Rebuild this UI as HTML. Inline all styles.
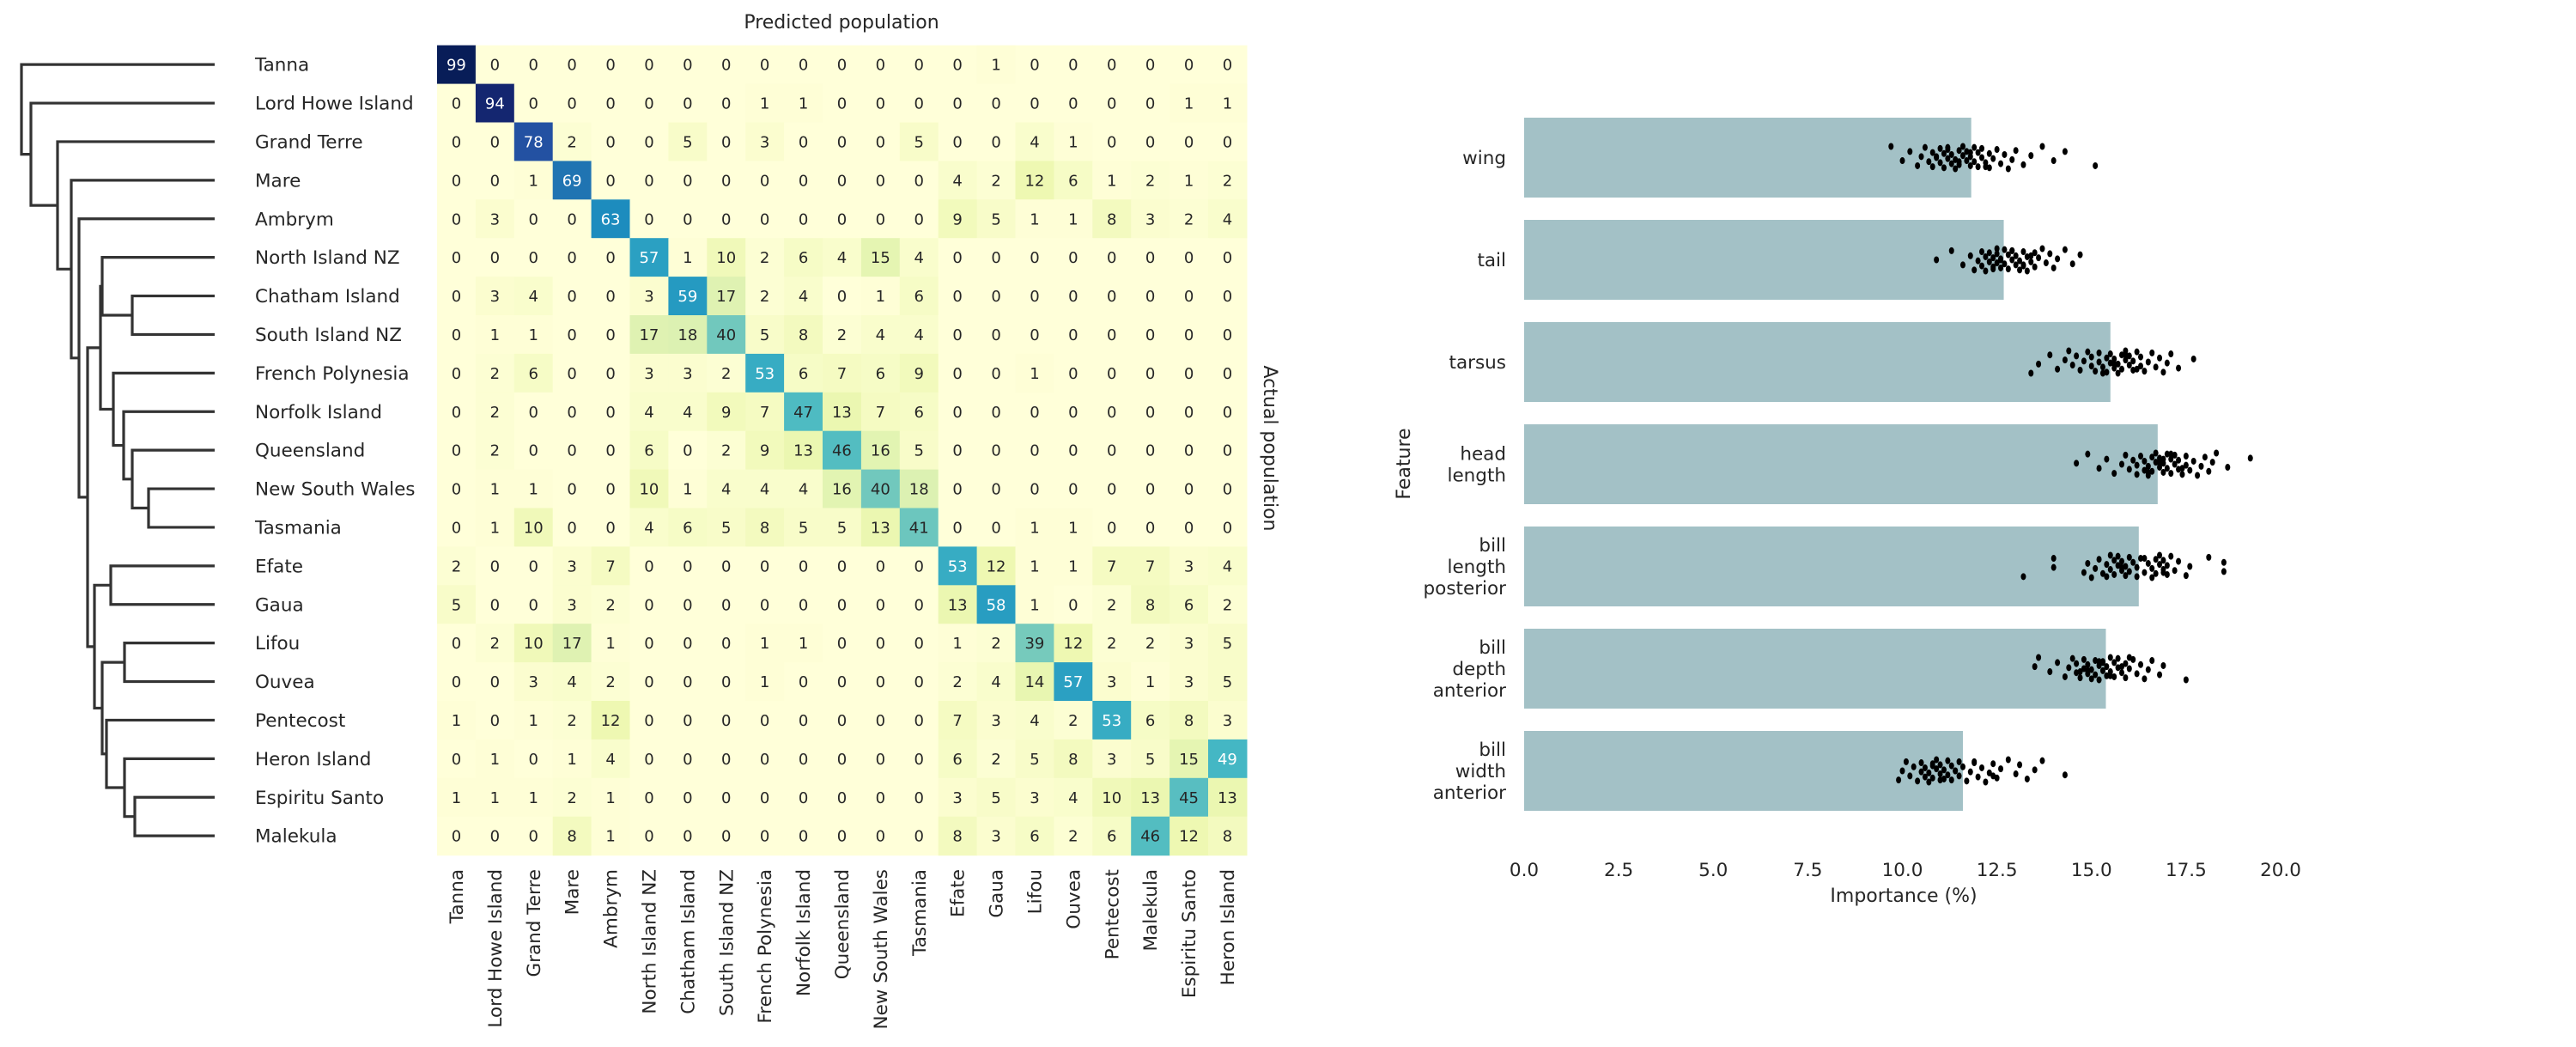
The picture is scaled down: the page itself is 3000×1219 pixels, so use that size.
<!DOCTYPE html>
<html><head><meta charset="utf-8"><style>
html,body{margin:0;padding:0;background:#fff;}
svg{display:block;}
text{font-family:"DejaVu Sans","Liberation Sans",sans-serif;fill:#262626;}
</style></head><body>
<svg id="chart" width="3000" height="1219" viewBox="0 0 3000 1219" xmlns="http://www.w3.org/2000/svg">
<g id="dendro"></g>
<g id="rowlabels"></g>
<g id="heat"></g>
<g id="collabels"></g>
<text x="980" y="33" font-size="22" text-anchor="middle">Predicted population</text>
<text x="0" y="0" font-size="22" text-anchor="middle" transform="translate(1472,522) rotate(90)">Actual population</text>
<g id="bars"></g>
<text x="0" y="0" font-size="22" text-anchor="middle" transform="translate(1642,540) rotate(-90)">Feature</text>
<text x="2217" y="1050" font-size="22" text-anchor="middle">Importance (%)</text>
</svg>
<script>
const populations = ["Tanna","Lord Howe Island","Grand Terre","Mare","Ambrym","North Island NZ","Chatham Island","South Island NZ","French Polynesia","Norfolk Island","Queensland","New South Wales","Tasmania","Efate","Gaua","Lifou","Ouvea","Pentecost","Heron Island","Espiritu Santo","Malekula"];
const predictedCols = ["Tanna","Lord Howe Island","Grand Terre","Mare","Ambrym","North Island NZ","Chatham Island","South Island NZ","French Polynesia","Norfolk Island","Queensland","New South Wales","Tasmania","Efate","Gaua","Lifou","Ouvea","Pentecost","Malekula","Espiritu Santo","Heron Island"];
const confusion = [
[99,0,0,0,0,0,0,0,0,0,0,0,0,0,1,0,0,0,0,0,0],
[0,94,0,0,0,0,0,0,1,1,0,0,0,0,0,0,0,0,0,1,1],
[0,0,78,2,0,0,5,0,3,0,0,0,5,0,0,4,1,0,0,0,0],
[0,0,1,69,0,0,0,0,0,0,0,0,0,4,2,12,6,1,2,1,2],
[0,3,0,0,63,0,0,0,0,0,0,0,0,9,5,1,1,8,3,2,4],
[0,0,0,0,0,57,1,10,2,6,4,15,4,0,0,0,0,0,0,0,0],
[0,3,4,0,0,3,59,17,2,4,0,1,6,0,0,0,0,0,0,0,0],
[0,1,1,0,0,17,18,40,5,8,2,4,4,0,0,0,0,0,0,0,0],
[0,2,6,0,0,3,3,2,53,6,7,6,9,0,0,1,0,0,0,0,0],
[0,2,0,0,0,4,4,9,7,47,13,7,6,0,0,0,0,0,0,0,0],
[0,2,0,0,0,6,0,2,9,13,46,16,5,0,0,0,0,0,0,0,0],
[0,1,1,0,0,10,1,4,4,4,16,40,18,0,0,0,0,0,0,0,0],
[0,1,10,0,0,4,6,5,8,5,5,13,41,0,0,1,1,0,0,0,0],
[2,0,0,3,7,0,0,0,0,0,0,0,0,53,12,1,1,7,7,3,4],
[5,0,0,3,2,0,0,0,0,0,0,0,0,13,58,1,0,2,8,6,2],
[0,2,10,17,1,0,0,0,1,1,0,0,0,1,2,39,12,2,2,3,5],
[0,0,3,4,2,0,0,0,1,0,0,0,0,2,4,14,57,3,1,3,5],
[1,0,1,2,12,0,0,0,0,0,0,0,0,7,3,4,2,53,6,8,3],
[0,1,0,1,4,0,0,0,0,0,0,0,0,6,2,5,8,3,5,15,49],
[1,1,1,2,1,0,0,0,0,0,0,0,0,3,5,3,4,10,13,45,13],
[0,0,0,8,1,0,0,0,0,0,0,0,0,8,3,6,2,6,46,12,8]];
// dendrogram merges: [childA, childB, height-x]; ids >= 100 refer to merge index-100
const merges = [[6,7,154],[5,100,119],[11,12,173],[10,102,154],[9,103,144],[8,104,132],[101,105,117],[13,14,129],[15,16,145],[19,20,157],[18,109,145],[17,110,124],[108,111,119],[107,112,110],[106,113,102],[4,114,92],[3,115,83],[2,116,67],[1,117,36],[0,118,25]];
const features = ["wing","tail","tarsus","head\nlength","bill\nlength\nposterior","bill\ndepth\nanterior","bill\nwidth\nanterior"];
const importance = [11.82,12.68,15.5,16.75,16.25,15.38,11.6];
const xTicks = [0,2.5,5,7.5,10,12.5,15,17.5,20];
const ptsWing = [9.7,10.0,10.2,10.4,10.5,10.6,10.7,10.8,10.8,10.9,11.0,11.0,11.1,11.1,11.2,11.2,11.3,11.3,11.4,11.4,11.5,11.5,11.6,11.6,11.7,11.7,11.8,11.8,11.9,11.9,12.0,12.0,12.1,12.1,12.2,12.3,12.3,12.4,12.5,12.6,12.7,12.8,12.9,13.0,13.2,13.4,13.7,14.0,14.3,15.1,10.9,11.2,11.5,11.8,12.2];
const ptsTail = [10.9,11.3,11.6,11.8,11.9,12.0,12.1,12.1,12.2,12.2,12.3,12.3,12.4,12.4,12.5,12.5,12.5,12.6,12.6,12.7,12.7,12.8,12.8,12.9,12.9,13.0,13.0,13.1,13.1,13.2,13.2,13.3,13.3,13.4,13.5,13.5,13.6,13.7,13.8,13.9,14.0,14.1,14.3,14.5,14.7,12.4,12.6,12.9,13.2,13.4];
const ptsTarsus = [13.4,13.6,13.9,14.1,14.3,14.4,14.5,14.6,14.7,14.8,14.9,15.0,15.0,15.1,15.2,15.2,15.3,15.4,15.4,15.5,15.5,15.6,15.6,15.7,15.7,15.8,15.8,15.9,15.9,16.0,16.0,16.1,16.1,16.2,16.3,16.3,16.4,16.5,16.6,16.7,16.8,16.9,17.0,17.1,17.3,17.7,15.3,15.6,15.9,16.2];
const ptsHead = [14.6,14.9,15.2,15.4,15.6,15.8,15.9,16.0,16.1,16.2,16.2,16.3,16.4,16.4,16.5,16.5,16.6,16.6,16.7,16.7,16.8,16.8,16.9,16.9,17.0,17.0,17.1,17.1,17.2,17.2,17.3,17.3,17.4,17.5,17.5,17.6,17.7,17.8,17.9,18.0,18.1,18.2,18.3,18.6,19.2,16.5,16.8,17.1,17.4,16.9];
const ptsBillLength = [13.2,14.0,14.0,14.8,14.9,15.0,15.1,15.2,15.3,15.4,15.5,15.5,15.6,15.6,15.7,15.7,15.8,15.8,15.9,15.9,16.0,16.0,16.1,16.2,16.2,16.3,16.4,16.5,16.6,16.6,16.7,16.7,16.8,16.8,16.9,16.9,17.0,17.0,17.1,17.2,17.3,17.5,17.6,18.1,18.5,18.5,15.4,15.8,16.4,16.9];
const ptsBillDepth = [13.5,13.6,13.9,14.1,14.3,14.4,14.5,14.6,14.6,14.7,14.8,14.8,14.9,14.9,15.0,15.0,15.1,15.1,15.2,15.2,15.3,15.3,15.4,15.4,15.5,15.5,15.6,15.6,15.7,15.7,15.8,15.9,15.9,16.0,16.1,16.2,16.3,16.4,16.5,16.6,16.8,16.9,17.5,14.9,15.2,15.5,15.8,16.0,14.7,15.3];
const ptsBillWidth = [9.9,10.0,10.1,10.2,10.3,10.4,10.5,10.5,10.6,10.6,10.7,10.7,10.8,10.8,10.9,10.9,11.0,11.0,11.1,11.1,11.2,11.2,11.3,11.3,11.4,11.5,11.5,11.6,11.7,11.8,11.9,12.0,12.1,12.2,12.3,12.4,12.5,12.6,12.8,13.0,13.1,13.3,13.5,13.7,14.3,10.8,11.0,11.4,11.9,12.4];
const points = [ptsWing,ptsTail,ptsTarsus,ptsHead,ptsBillLength,ptsBillDepth,ptsBillWidth];

const NS="http://www.w3.org/2000/svg";
function mk(tag,attrs,parent){const e=document.createElementNS(NS,tag);for(const k in attrs)e.setAttribute(k,attrs[k]);parent.appendChild(e);return e;}

// heatmap axes
const H0X=509, H0Y=52.7, CELL=44.9, VMAX=99;
const cx=j=>H0X+CELL*j, cy=i=>H0Y+CELL*i;
const stops=[[255,255,217],[237,248,177],[199,233,180],[127,205,187],[65,182,196],[29,145,192],[34,94,168],[37,52,148],[8,29,88]];
function cmap(v){let t=Math.max(0,Math.min(1,v/VMAX))*8;let k=Math.min(7,Math.floor(t));let f=t-k;const a=stops[k],b=stops[k+1];return [0,1,2].map(c=>Math.round(a[c]+(b[c]-a[c])*f));}
function lum(c){const l=c.map(x=>{x/=255;return x<=0.03928?x/12.92:Math.pow((x+0.055)/1.055,2.4);});return 0.2126*l[0]+0.7152*l[1]+0.0722*l[2];}
const heat=document.getElementById('heat');
confusion.forEach((row,i)=>row.forEach((v,j)=>{
  const c=cmap(v);
  const r=mk('rect',{x:cx(j),y:cy(i),width:CELL+0.6,height:CELL+0.6,fill:`rgb(${c[0]},${c[1]},${c[2]})`},heat);
  
  
  const t=mk('text',{x:cx(j)+CELL/2,y:cy(i)+CELL/2+6.5,'font-size':18,'text-anchor':'middle'},heat);
  
  
  t.style.fill=lum(c)>0.408?'#262626':'#ffffff';
  t.textContent=v;
}));
const rl=document.getElementById('rowlabels');
populations.forEach((p,i)=>{const t=mk('text',{x:297,y:cy(i)+CELL/2+7.5,'font-size':21.5},rl);
  
  
  t.textContent=p;});
const cl=document.getElementById('collabels');
predictedCols.forEach((p,j)=>{const x=cx(j)+CELL/2+7.5;const t=mk('text',{x:0,y:0,'font-size':21.5,'text-anchor':'end',transform:`translate(${x},1012) rotate(-90)`},cl);
  
  
  t.textContent=p;});

// dendrogram
const dg=document.getElementById('dendro');
const LEAFX=250;
const nodeInfo=[];
function info(id){if(id<100)return {x:LEAFX,y:cy(id)+CELL/2};return nodeInfo[id-100];}
merges.forEach(m=>{const a=info(m[0]),b=info(m[1]);const x=m[2];
  const p=mk('path',{d:`M${a.x},${a.y}H${x}V${b.y}H${b.x}`,fill:'none',stroke:'#333',
    'stroke-width':3.2},dg);
  
  
  nodeInfo.push({x:x,y:(a.y+b.y)/2});});

// bar chart
const bg=document.getElementById('bars');
const X0=1775, XS=44.05, Y0=183.5, YS=119, BH=93;
const xs=v=>X0+v*XS, ys=i=>Y0+i*YS;
importance.forEach((v,i)=>{const r=mk('rect',{x:X0,y:ys(i)-BH/2,width:xs(v)-X0,height:BH,fill:'#a3c1c6'},bg);
  
  });
points.forEach((arr,i)=>arr.forEach((v,k)=>{const jit=(((k*37+i*11)%23)/22-0.5)*26;
  const c=mk('ellipse',{cx:xs(v),cy:ys(i)+jit,rx:3,ry:4,fill:'#000'},bg);
  
  }));
features.forEach((f,i)=>{const lines=f.split('\n');const n=lines.length;
  lines.forEach((ln,k)=>{const t=mk('text',{x:1754,y:ys(i)+(k-(n-1)/2)*25+7.5,'font-size':21.5,'text-anchor':'end'},bg);
    
    
    t.textContent=ln;});});
xTicks.forEach(v=>{const t=mk('text',{x:xs(v),y:1020,'font-size':21.5,'text-anchor':'middle'},bg);
  
  
  t.textContent=v.toFixed(1);});
</script>
</body></html>
